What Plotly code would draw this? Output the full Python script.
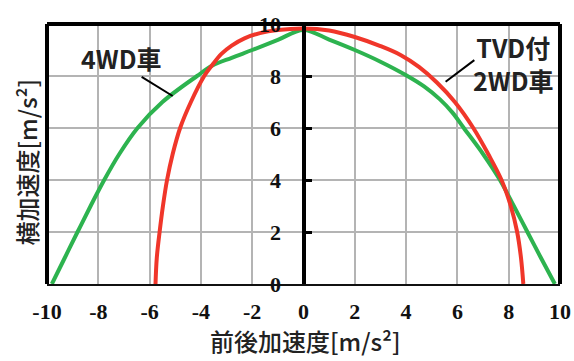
import plotly.graph_objects as go

# 4WD vehicle (green)
g_x = [-9.81, -9.31, -8.81, -8.3, -7.77, -7.18, -6.47, -5.5, -4.15, -3.55, -2.8, -2.0, -1.0, 0.0,
       1.0, 2.0, 3.0, 4.0, 4.7, 5.32, 5.8, 6.25, 7.0, 7.66, 8.2, 8.73, 9.26, 9.8]
g_y = [0.0, 1.0, 2.0, 3.0, 4.0, 5.0, 6.0, 7.0, 8.0, 8.4, 8.7, 9.0, 9.39, 9.77,
       9.4, 9.0, 8.55, 8.03, 7.6, 7.1, 6.6, 6.0, 5.0, 4.0, 3.0, 2.0, 1.0, 0.0]

# TVD 2WD vehicle (red)
r_x = [-5.77, -5.72, -5.61, -5.48, -5.32, -5.1, -4.81, -4.39, -3.87, -3.55, -3.2, -2.8, -2.3, -1.7, -1.0, 0.0,
       1.0, 2.0, 3.0, 3.8, 4.5, 5.2, 5.9, 6.62, 7.2, 7.72, 8.08, 8.33, 8.48, 8.57]
r_y = [0.0, 1.0, 2.0, 3.0, 4.0, 5.0, 6.0, 7.0, 8.0, 8.43, 8.85, 9.17, 9.45, 9.65, 9.77, 9.83,
       9.75, 9.5, 9.15, 8.8, 8.35, 7.75, 7.0, 6.0, 5.0, 4.0, 3.0, 2.0, 1.0, 0.0]

x_ticks = [-10, -8, -6, -4, -2, 0, 2, 4, 6, 8, 10]
y_ticks = [0, 2, 4, 6, 8, 10]

label_4wd = "4WD車"
label_tvd = "TVD付<br>2WD車"
x_title = "前後加速度[m/s²]"
y_title = "横加速度[m/s²]"

GREEN = "#2db34f"
RED = "#f0362a"
GRID = "#b4b4b4"

fig = go.Figure()
fig.add_trace(go.Scatter(x=g_x, y=g_y, mode="lines",
                         line=dict(color=GREEN, width=4, shape="spline", smoothing=1.0),
                         cliponaxis=False, showlegend=False))
fig.add_trace(go.Scatter(x=r_x, y=r_y, mode="lines",
                         line=dict(color=RED, width=4, shape="spline", smoothing=1.0),
                         cliponaxis=False, showlegend=False))

tick_font = dict(family="Liberation Serif", size=22, color="#111", weight="bold")

fig.update_xaxes(range=[-10, 10], tickvals=x_ticks, ticktext=[str(v) for v in x_ticks],
                 showgrid=True, gridcolor=GRID, gridwidth=1.5, zeroline=False,
                 showline=True, linecolor="#111", linewidth=2, automargin=False,
                 ticks="", tickfont=tick_font, ticklabelstandoff=7)
fig.update_yaxes(range=[0, 10], tickvals=y_ticks, ticktext=[str(v) for v in y_ticks],
                 anchor="free", position=0.5, automargin=False,
                 showgrid=True, gridcolor=GRID, gridwidth=1.5, zeroline=False,
                 showline=True, linecolor="#000", linewidth=4,
                 ticks="inside", ticklen=6, tickwidth=3, tickcolor="#000",
                 tickfont=tick_font, ticklabelstandoff=16)

# frame
for x0, y0, x1, y1 in [(0, 0, 0, 1), (0, 1, 1, 1), (1, 0, 1, 1)]:
    fig.add_shape(type="line", xref="paper", yref="paper", x0=x0, y0=y0, x1=x1, y1=y1,
                  line=dict(color="#000", width=4))

# leader lines
fig.add_shape(type="line", xref="x", yref="y", x0=-6.31, y0=7.97, x1=-5.1, y1=7.23,
              line=dict(color="#000", width=2))
fig.add_shape(type="line", xref="x", yref="y", x0=5.54, y0=7.78, x1=6.66, y1=8.61,
              line=dict(color="#000", width=2))

ann_font = dict(family="Noto Sans CJK JP", size=25, color="#222", weight="bold")
fig.add_annotation(x=-7.1, y=8.71, xref="x", yref="y", text=label_4wd, showarrow=False,
                   font=ann_font, xanchor="center", yanchor="middle")
fig.add_annotation(x=8.17, y=8.48, xref="x", yref="y", text=label_tvd, showarrow=False,
                   font=ann_font, xanchor="center", yanchor="middle", align="center")

title_font = dict(family="Noto Sans CJK JP", size=24, color="#222", weight=500)
fig.add_annotation(x=0.503, y=-0.292, xref="paper", yref="paper", text=x_title, showarrow=False,
                   font=title_font, xanchor="center", yanchor="bottom")
fig.add_annotation(x=-0.039, y=0.471, xref="paper", yref="paper", text=y_title, showarrow=False,
                   font=title_font, xanchor="center", yanchor="middle", textangle=-90)

fig.update_layout(width=574, height=361, margin=dict(l=47, r=14, t=24, b=77, autoexpand=False),
                  plot_bgcolor="white", paper_bgcolor="white")

fig.write_html("out.html", config={"displayModeBar": False},
               post_script="document.body.style.margin='0';document.body.style.overflow='hidden';")
